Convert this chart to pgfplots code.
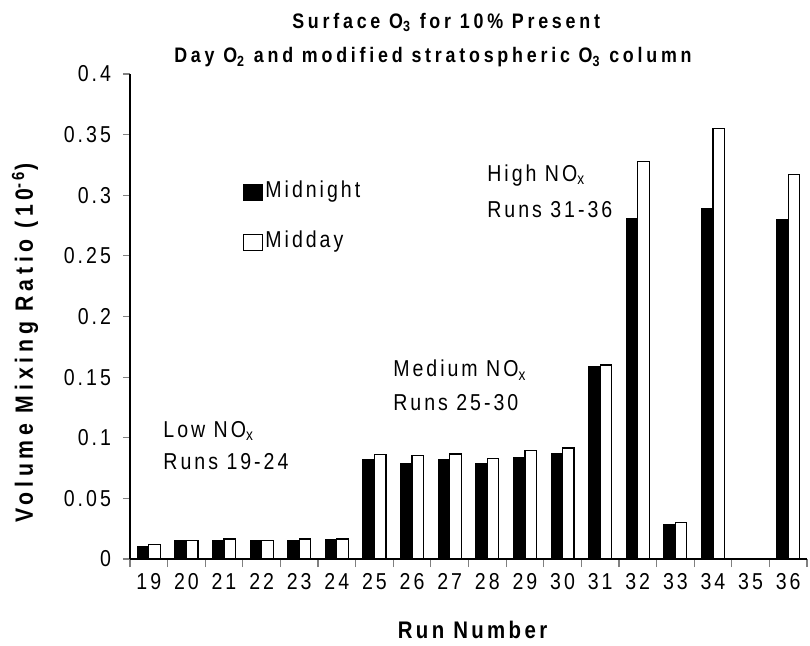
\documentclass[border=0pt]{standalone}
\usepackage{fontspec}
\setmainfont{Liberation Sans}[FakeStretch=0.85, LetterSpace=13]
\usepackage{pgfplots}
\pgfplotsset{compat=1.18}
\newcommand\reg{\fontsize{11.5}{13.8}\selectfont}
\pgfplotsset{sqlegend/.style={legend image code/.code={\draw[##1] (0pt,-5pt) rectangle (9.5pt,3pt);}}}
\pgfplotstableread{
x mid day
0 0.010 0.0118
1 0.015 0.015
2 0.015 0.0165
3 0.015 0.015
4 0.015 0.0165
5 0.0165 0.0165
6 0.082 0.0864
7 0.0784 0.0852
8 0.082 0.0866
9 0.0784 0.083
10 0.0836 0.0897
11 0.0869 0.0916
12 0.1584 0.160
13 0.281 0.328
14 0.0283 0.030
15 0.289 0.355
17 0.280 0.317
}\runs
\begin{document}
\begin{tikzpicture}
\begin{axis}[
  scale only axis, width=338.5pt, height=242.5pt,
  clip=false,
  ybar=0pt, bar width=5.75pt,
  xmin=-0.5, xmax=17.5, ymin=0, ymax=0.4,
  axis x line*=bottom, axis y line*=left,
  axis line style={-, line width=0.6pt},
  tick align=outside,
  xtick={0,...,17},
  xticklabels={19,20,21,22,23,24,25,26,27,28,29,30,31,32,33,34,35,36},
  major x tick style={draw=none},
  minor xtick={-0.5,0.5,...,17.5},
  minor x tick style={line width=0.6pt},
  minor tick length=4pt,
  ytick={0,0.05,0.1,0.15,0.2,0.25,0.3,0.35,0.4},
  yticklabels={0,0.05,0.1,0.15,0.2,0.25,0.3,0.35,0.4},
  yticklabel style={xshift=-2.5pt},
  y tick style={line width=0.6pt},
  major tick length=3.5pt,
  ticklabel style={font=\reg},
  xlabel={Run Number},
  xlabel style={at={(rel axis cs:0.506,-0.146)}, anchor=center,
    font=\fontsize{12}{14}\selectfont\bfseries\addfontfeatures{LetterSpace=14}},
  ylabel={Volume Mixing Ratio (10\textsuperscript{-6})},
  ylabel style={at={(rel axis cs:-0.155,0.445)}, anchor=center,
    font=\fontsize{12.5}{15}\selectfont\bfseries\addfontfeatures{LetterSpace=19}},
  legend style={at={(axis cs:2.5,0.314)}, anchor=north west, draw=none, fill=none,
    inner sep=0pt, row sep=13pt, font=\reg,
    nodes={inner sep=1pt}},
  legend cell align=left,
]
\addplot[fill=black, draw=black, line width=0.5pt, sqlegend]
  table[x=x, y=mid] {\runs};
\addlegendentry{Midnight}
\addplot[fill=white, draw=black, line width=0.6pt, sqlegend]
  table[x=x, y=day] {\runs};
\addlegendentry{Midday}

\path (rel axis cs:-0.192,-0.1773) rectangle (rel axis cs:1.0044,1.1526);

\node[font=\fontsize{10.5}{13}\selectfont\bfseries\addfontfeatures{LetterSpace=18}, anchor=base, inner sep=0pt] at (rel axis cs:0.467,1.0948) {Surface O\textsubscript{3} for 10\% Present};
\node[font=\fontsize{10.5}{13}\selectfont\bfseries\addfontfeatures{LetterSpace=18}, anchor=base, inner sep=0pt] at (rel axis cs:0.4475,1.0227) {Day O\textsubscript{2} and modified stratospheric O\textsubscript{3} column};

\node[font=\reg, anchor=west, inner sep=0pt] at (axis cs:0.38,0.1055) {Low NO\textsubscript{x}};
\node[font=\reg, anchor=west, inner sep=0pt] at (axis cs:0.38,0.0800) {Runs 19-24};
\node[font=\reg, anchor=west, inner sep=0pt] at (axis cs:6.49,0.156) {Medium NO\textsubscript{x}};
\node[font=\reg, anchor=west, inner sep=0pt] at (axis cs:6.49,0.1287) {Runs 25-30};
\node[font=\reg, anchor=west, inner sep=0pt] at (axis cs:8.99,0.3165) {High NO\textsubscript{x}};
\node[font=\reg, anchor=west, inner sep=0pt] at (axis cs:8.99,0.2885) {Runs 31-36};
\end{axis}
\end{tikzpicture}
\end{document}
